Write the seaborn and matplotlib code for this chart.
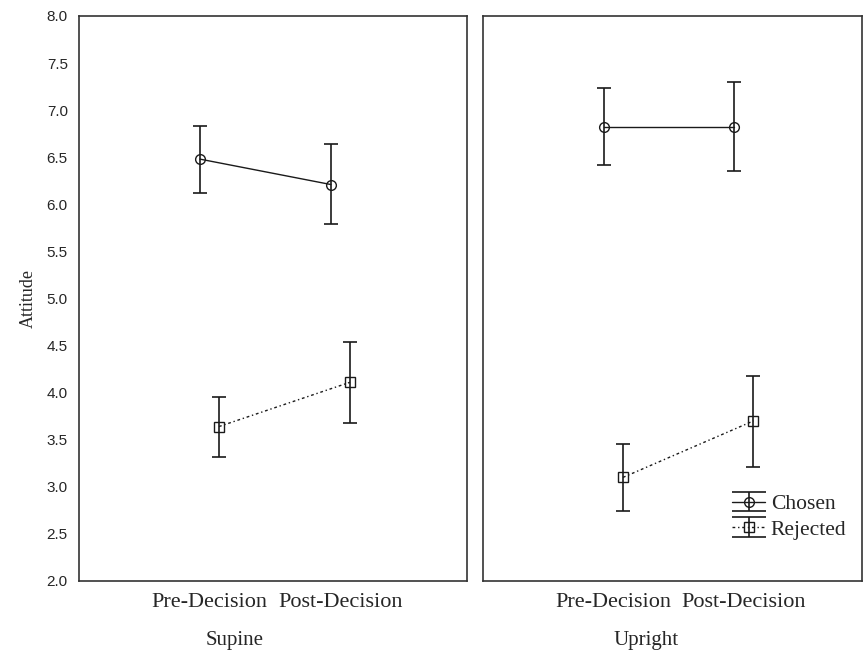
import numpy as np
import pandas as pd
import matplotlib
matplotlib.use("Agg")
import matplotlib.pyplot as plt
import seaborn as sns
from matplotlib.lines import Line2D
from matplotlib.container import ErrorbarContainer
from matplotlib.legend_handler import HandlerErrorbar, HandlerTuple

phases = ["Pre-Decision", "Post-Decision"]
postures = ["Supine", "Upright"]
groups = ["Chosen", "Rejected"]

# means with lower / upper error limits
supine_chosen = [6.48, 6.21]
supine_chosen_lo = [6.12, 5.79]
supine_chosen_hi = [6.83, 6.64]
supine_rejected = [3.64, 4.11]
supine_rejected_lo = [3.32, 3.68]
supine_rejected_hi = [3.95, 4.54]
upright_chosen = [6.82, 6.82]
upright_chosen_lo = [6.42, 6.35]
upright_chosen_hi = [7.23, 7.30]
upright_rejected = [3.10, 3.70]
upright_rejected_lo = [2.74, 3.21]
upright_rejected_hi = [3.45, 4.18]

rows = []
series = {
    ("Supine", "Chosen"): (supine_chosen, supine_chosen_lo, supine_chosen_hi),
    ("Supine", "Rejected"): (supine_rejected, supine_rejected_lo, supine_rejected_hi),
    ("Upright", "Chosen"): (upright_chosen, upright_chosen_lo, upright_chosen_hi),
    ("Upright", "Rejected"): (upright_rejected, upright_rejected_lo, upright_rejected_hi),
}
for (posture, group), (m, lo, hi) in series.items():
    for i, ph in enumerate(phases):
        rows.append({"posture": posture, "group": group, "phase": ph,
                     "mean": m[i], "lo": lo[i], "hi": hi[i]})
df = pd.DataFrame(rows)
df["pos"] = df["phase"].map({p: i for i, p in enumerate(phases)})

sns.set_style("white")
serif = ["Liberation Serif", "DejaVu Serif"]
sans = ["Liberation Sans", "DejaVu Sans"]

ink = "#1a1a1a"
styles = {
    "Chosen": dict(marker="o", linestyle="-", offset=-0.073),
    "Rejected": dict(marker="s", linestyle=(0, (2.0, 2.0, 1.0, 2.0)), offset=0.073),
}


class WideCaps(HandlerErrorbar):
    # caps stretched across the whole legend handle
    def create_artists(self, legend, orig_handle, xdescent, ydescent,
                       width, height, fontsize, trans):
        artists = super().create_artists(legend, orig_handle, xdescent, ydescent,
                                         width, height, fontsize, trans)
        for a in artists:
            if isinstance(a, Line2D) and a.get_marker() == "_":
                a.set_markersize(width)
        return artists


fig = plt.figure(figsize=(8.63, 6.57), dpi=100)
ax1 = fig.add_axes([0.0915, 0.1157, 0.4496, 0.86])
ax2 = fig.add_axes([0.5597, 0.1157, 0.439, 0.86])
xlims = {"Supine": (-0.996, 1.966), "Upright": (-1.0, 1.904)}

handles = []
for ax, posture in zip([ax1, ax2], postures):
    for group in groups:
        st = styles[group]
        sub = df[(df["posture"] == posture) & (df["group"] == group)]
        x = sub["pos"] + st["offset"]
        eb = ax.errorbar(x, sub["mean"],
                         yerr=[sub["mean"] - sub["lo"], sub["hi"] - sub["mean"]],
                         fmt="none", ecolor=ink, elinewidth=1.2,
                         capsize=4.7, capthick=1.2, zorder=2)
        sns.lineplot(x=x, y=sub["mean"], ax=ax, color=ink, linewidth=1.0,
                     linestyle=st["linestyle"], marker=st["marker"],
                     markersize=7 if group == "Chosen" else 6.5,
                     markerfacecolor="none", markeredgecolor=ink,
                     markeredgewidth=1.0, errorbar=None, legend=False, zorder=3)
        if posture == "Upright":
            handles.append((eb, ax.lines[-1]))

    ax.set_xlim(*xlims[posture])
    ax.set_ylim(2.0, 8.0)
    ax.set_xticks(range(len(phases)))
    ax.set_xticklabels(phases, family=serif, fontsize=16)
    ax.set_xlabel("")
    ax.set_ylabel("")
    ax.tick_params(axis="both", length=0)
    ax.tick_params(axis="x", pad=9)
    for sp in ax.spines.values():
        sp.set_visible(True)
        sp.set_color("#333333")
        sp.set_linewidth(1.2)

ax1.set_yticks(np.arange(2.0, 8.01, 0.5))
ax1.set_yticklabels([f"{v:.1f}" for v in np.arange(2.0, 8.01, 0.5)],
                    family=sans, fontsize=11)
ax1.tick_params(axis="y", pad=8)
ax1.set_ylabel("Attitude", family=serif, fontsize=13, labelpad=7)
ax2.set_yticks([])

fig.text(235 / 863, 12 / 657, "Supine", family=serif, fontsize=15,
         ha="center", va="baseline")
fig.text(646 / 863, 12 / 657, "Upright", family=serif, fontsize=15,
         ha="center", va="baseline")

ax2.legend(handles, groups, loc="lower left", bbox_to_anchor=(0.629, 0.054),
           frameon=False, numpoints=1, handlelength=1.55, handletextpad=0.25,
           labelspacing=0.25, borderpad=0, prop={"family": serif, "size": 15.5},
           handler_map={ErrorbarContainer: WideCaps(xerr_size=0.45),
                        tuple: HandlerTuple(ndivide=1)})

fig.savefig("out.png", dpi=100, facecolor="white")
